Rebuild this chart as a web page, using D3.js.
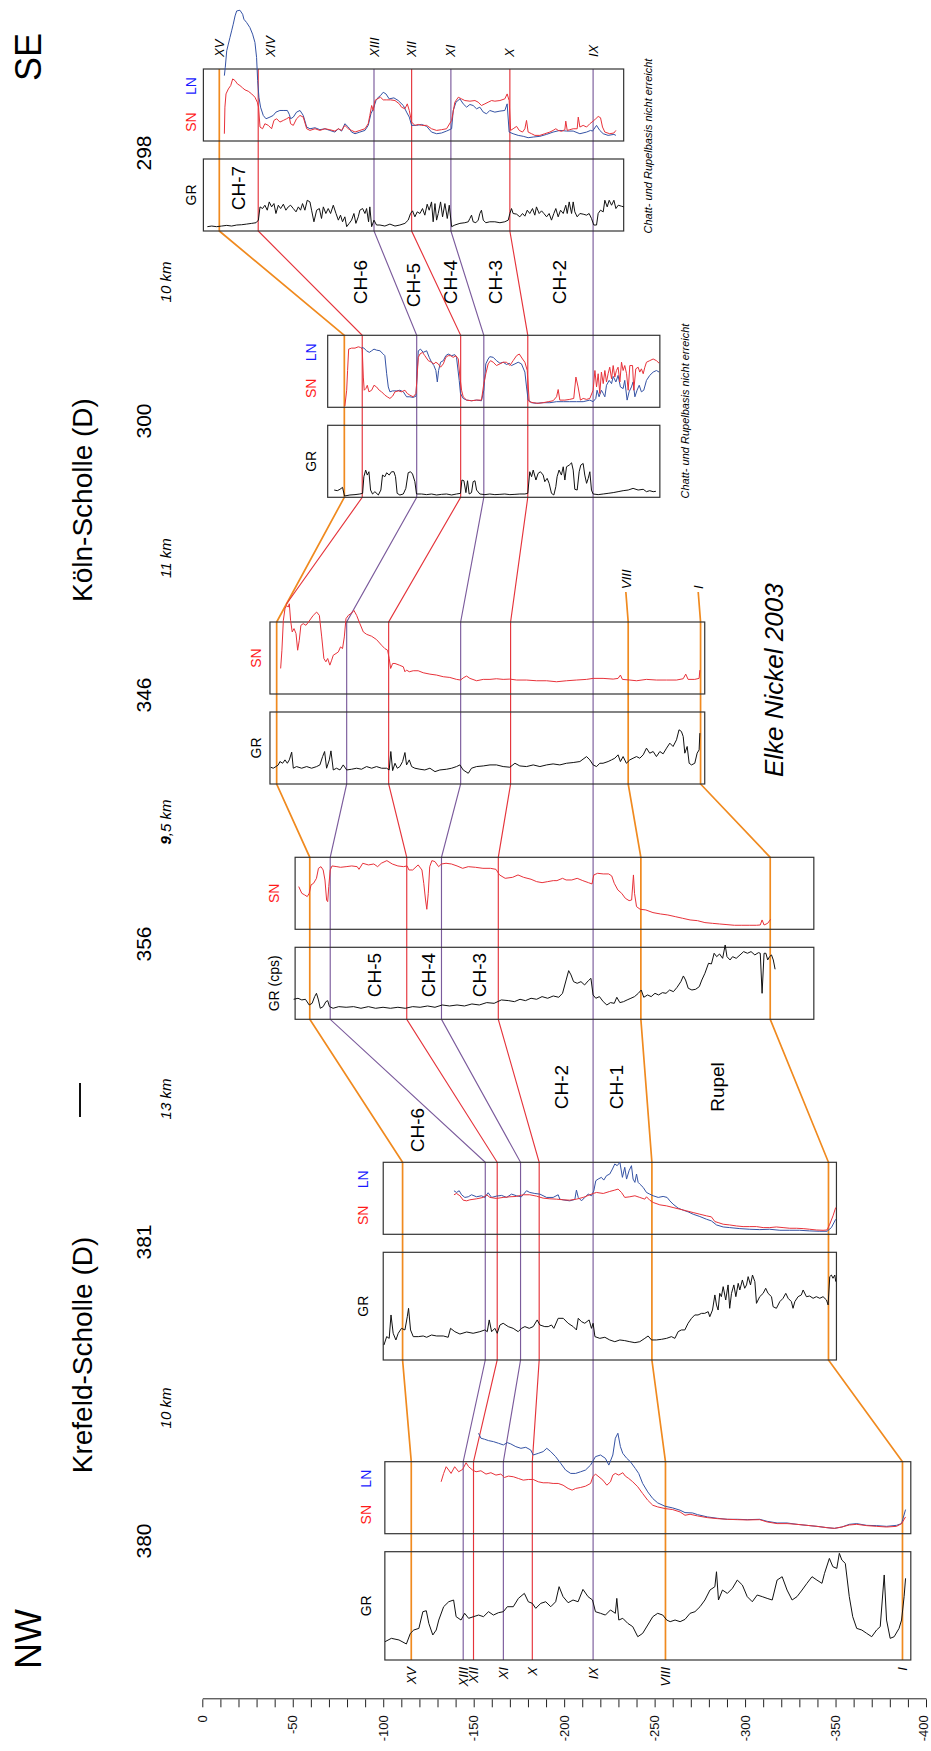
<!DOCTYPE html>
<html>
<head>
<meta charset="utf-8">
<script src="https://cdn.jsdelivr.net/npm/d3@7"></script>
<style>
html,body{margin:0;padding:0;background:#fff;}
svg{display:block;font-family:"Liberation Sans",Arial,Helvetica,sans-serif;}
</style>
</head>
<body>
<svg id="chart" width="931" height="1751"></svg>
<script>
// ---------- well-log data: [depth below datum (m), log reading on a 0-100 track scale] ----------
const gr380 = [[101,16.9],[104.5,20],[108.7,18.5],[112.8,14.8],[115,24.6],[116.9,27.7],[119.7,29.2],[121.9,44.6],[123.8,45.5],[125.2,33.8],[127.4,23.1],[129.3,27.7],[130.7,36.9],[133.4,49.2],[136.2,53.8],[138.9,55.4],[140.3,40],[143,36.9],[145,43.1],[147.2,38.5],[149.9,40],[152.7,41.5],[155.4,40],[158.2,44.6],[160.9,41.5],[163.7,43.7],[166.4,44.6],[168.6,49.2],[171.9,49.2],[174.7,56.9],[178,61.5],[180.2,53.8],[182.4,52.3],[184.3,47.7],[187.1,52.3],[189.8,53.8],[192.6,49.2],[195.3,53.8],[197.2,67.7],[199.4,58.5],[202.2,52.9],[204.9,55.4],[207.7,53.8],[210.4,65.2],[213.2,58.5],[215.7,55.4],[217.3,44.6],[220.1,43.1],[222.8,41.5],[225.6,46.2],[228.3,43.1],[229.1,56.9],[230.2,36.9],[232.4,38.5],[235.2,33.8],[237.9,30.8],[240.7,21.5],[243.4,24.6],[246.2,32.3],[249,40],[251.7,43.1],[254.5,41.5],[256.7,36.9],[258.6,35.4],[261.3,36.9],[264.1,35.4],[266.8,37.5],[269.6,43.1],[272.3,44.6],[275.1,49.2],[277.8,55.4],[280.6,64.6],[283.3,67.7],[284.2,81.5],[285.3,55.4],[287.5,64.6],[290.2,61.5],[293,66.2],[295.7,73.8],[298.5,69.2],[301.2,58.5],[304,53.8],[306.7,60],[309.5,58.5],[312.2,56.9],[315,55.4],[317.7,73.8],[320.5,76.9],[323.2,64.6],[326,55.4],[328.7,58.5],[331.5,64.6],[334.2,70.8],[337,76.9],[339.7,73.8],[342.5,70.8],[343.9,80],[346.6,93.8],[348.5,86.2],[350.7,84.6],[352.1,98.5],[353.5,92.3],[355.4,89.2],[357.6,58.5],[359.5,40],[361.7,29.2],[364.5,27.7],[367.2,24.6],[370,21.5],[372.7,27.7],[374.7,30.8],[376.9,78.5],[378.2,36.9],[380.2,20],[382.4,21.5],[385.1,29.2],[386.5,36.9],[387.9,58.5],[388.7,75.4]];
const sn380 = [[132,72.1],[133.4,83.7],[134.8,93],[136.2,88.4],[137.5,83.7],[139.5,93],[141.7,86],[143.9,89.3],[145.8,98.6],[147.2,93],[149.4,88.4],[151.3,86],[154,87.4],[156.8,82.8],[159.5,84.7],[162.3,81.4],[165,82.8],[167,78.1],[169.2,80],[171.9,79.1],[174.7,76.7],[177.4,74.4],[180.2,75.3],[182.9,75.3],[185.7,72.1],[188.4,70.7],[191.2,70.7],[193.9,69.8],[196.7,69.8],[199.4,67.4],[202.2,62.8],[204.4,60.5],[206.3,62.8],[209.1,64.2],[211.8,66],[214.6,69.8],[215.9,79.1],[217.3,82.8],[218.7,80],[221.4,74.4],[223.6,67.4],[225.6,72.1],[226.9,81.4],[228.3,83.7],[230.2,81.4],[232.4,84.7],[233.8,80],[235.7,76.7],[237.9,72.1],[240.7,65.1],[243.4,55.8],[246.2,46.5],[249,39.5],[251.7,37.2],[255.8,34.9],[260,33.5],[264.1,30.2],[266.8,25.6],[269.6,27],[273.7,24.7],[279.2,22.3],[284.7,20.9],[290.2,20],[295.7,19.5],[301.2,19.1],[308.1,19.5],[312.2,16.3],[317.7,14],[323.2,14],[328.7,13],[334.2,11.6],[339.7,10.2],[345.2,8.4],[349.4,7.4],[353.5,9.3],[357.6,12.1],[361.7,13],[367.2,11.2],[372.7,10.2],[378.2,9.3],[383.7,10.2],[386.5,14],[388.7,23.3]];
const ln380 = [[152.7,139.5],[154,132.6],[156,131.2],[158.2,129.3],[160.9,127.9],[163.7,125.6],[166.4,123.3],[168.6,126.5],[170.5,124.7],[173.3,120.9],[176.1,118.6],[178.8,120],[181.5,116.3],[182.9,109.3],[185.7,111.6],[188.4,114],[190.4,118.6],[192.6,114],[195.3,107],[198.1,97.7],[200.8,88.4],[203.6,83.7],[206.3,83.7],[209.1,86],[211.8,88.4],[214.6,95.3],[217.3,107],[220.1,109.3],[222.8,104.7],[224.7,95.3],[226.9,109.3],[228.3,132.6],[229.7,139.5],[231.1,120.9],[232.4,111.6],[234.6,104.7],[236.6,100],[239.3,90.7],[241.2,83.7],[243.4,69.8],[246.2,58.1],[249,48.8],[251.7,42.8],[255.8,38.1],[260,35.8],[264.1,32.6],[266.8,29.3],[271,28.8],[273.7,26.5],[279.2,23.3],[284.7,21.4],[290.2,20],[295.7,20],[301.2,19.5],[308.1,20],[312.2,17.2],[317.7,14.9],[323.2,14.9],[328.7,13],[334.2,11.6],[339.7,10.2],[345.2,8.4],[349.4,7.4],[353.5,9.3],[357.6,13],[361.7,14],[367.2,11.6],[372.7,11.2],[378.2,10.2],[383.7,11.6],[386.5,14],[388.7,33.5]];

const gr381 = [[100.4,13.9],[101.9,21.7],[103.3,20.1],[104.3,41.8],[105.5,24.8],[107,18.6],[108.3,24.8],[110.1,29.4],[112,27.9],[113.3,40.2],[114,48],[115.1,27.9],[116.6,21.7],[119.4,21.7],[122.1,22.3],[124,21.1],[126.7,23.2],[129.5,22.3],[133.2,22.3],[135.9,21.1],[137.2,29.4],[139.6,26.3],[142.4,24.1],[146.1,26],[149.7,24.8],[153.4,26.3],[156.2,27.9],[157.5,26.3],[158.6,37.2],[159.9,26.3],[161.7,29.4],[163,24.8],[164.5,32.5],[166.3,34.1],[169.1,31],[171.8,29.4],[174.6,26.3],[176.4,29.4],[178.3,31],[180.7,29.4],[182.9,31],[185.1,37.2],[186.6,32.5],[189.3,31],[191.2,31],[193,32.5],[194.3,29.4],[196.7,38.7],[199.5,38.7],[202.2,34.1],[205,31],[206.8,27.9],[207.8,38.7],[209.6,35.6],[211.4,34.1],[213.8,37.2],[215.1,29.4],[216,34.1],[217,21.7],[219.7,20.1],[222.5,21.1],[225.2,18.6],[228,17],[230.8,18.6],[233.5,18],[236.3,17],[239.1,16.1],[241.8,17],[244.6,20.1],[246.4,22.3],[248.3,18.6],[251,18.6],[253.8,19.2],[256.6,20.1],[259.3,21.7],[261.2,20.1],[263,26.3],[264.8,27.9],[266.7,27.9],[268.5,34.1],[270.4,38.7],[272.2,41.8],[274,41.8],[275.9,43.3],[277.7,43.3],[279.6,44.9],[280.5,40.2],[282,46.4],[283.3,60.4],[284.2,51.1],[285.1,46.4],[286,61.9],[286.9,58.8],[287.9,68.1],[289.3,55.7],[290.6,69.7],[291.5,48],[292.5,61.9],[293.8,69.7],[294.9,58.8],[296.2,71.2],[297.1,65],[298.5,74.3],[299.8,66.6],[300.8,69.7],[301.7,77.4],[303,69.7],[304.1,78.9],[305.4,72.8],[306.3,52.6],[308.1,58.8],[310,61.9],[311.4,66.6],[312.7,61.9],[314.6,58.8],[315.5,49.5],[317.3,48],[319.2,54.2],[321,57.3],[322.5,61.9],[323.8,57.3],[325.6,54.2],[326.5,48],[327.5,54.2],[329.3,58.8],[331.1,60.4],[332.1,65],[333.9,58.8],[335.7,59.4],[337.6,57.3],[339.4,58.8],[341.3,57.3],[343.1,58.8],[345,55.7],[345.9,51.1],[346.8,77.4],[347.7,78.9],[348.6,75.9],[349.6,78.9],[350.1,72.8]];
const sn381 = [[139.1,54.9],[140.5,56.7],[142.4,53.5],[144.2,47.4],[146.1,46.5],[147.9,47.9],[151.6,49.3],[155.3,51.2],[157.1,54.9],[159,51.2],[162.6,49.8],[166.3,51.2],[170,52.1],[173.7,52.6],[177.4,54.9],[181,54.9],[184.7,53],[188.4,50.2],[192.1,49.3],[195.8,48.8],[199.5,47.9],[203.1,47.4],[206.8,48.8],[210.5,51.2],[214.2,54.9],[216,56.7],[217.9,58.1],[221.6,56.7],[225.2,59.5],[228,61.4],[229.8,62.8],[231.7,58.1],[233.5,51.2],[236.3,52.1],[239.1,53.5],[241.8,51.2],[244.6,48.8],[245.5,52.1],[247.3,47.4],[249.2,44.2],[252.9,40.9],[256.6,39.5],[260.2,37.2],[263.9,34.9],[267.6,32.6],[271.3,30.2],[275,27.9],[278.7,25.6],[281.4,24.2],[283.3,17.7],[285.1,16.3],[287.9,14],[291.5,13],[295.2,11.6],[298.9,10.7],[302.6,10.7],[306.3,10.7],[310,9.3],[313.6,9.3],[317.3,10.2],[321,9.3],[324.7,8.4],[328.4,8.4],[332.1,7.9],[335.7,7],[339.4,6],[343.1,5.6],[345.3,6],[346.8,14],[348.6,25.6],[350.1,37.2]];
const ln381 = [[139.1,60.5],[140.5,58.1],[142,60.5],[143.3,54.9],[145.1,51.2],[147,52.1],[148.8,54.9],[151.6,52.1],[154.3,53.5],[156.2,51.2],[158,57.7],[159.9,51.2],[162.6,53],[165.4,54],[168.2,51.2],[170.9,55.8],[173.7,53.5],[176.4,52.1],[179.2,60.5],[181,58.1],[183.8,56.7],[186.6,55.8],[190.3,51.2],[193.9,51.2],[196.7,54.9],[197.6,48.8],[200.4,47.4],[203.1,46.5],[205.9,48.4],[206.8,61.4],[207.8,51.2],[209.6,46.5],[211.4,51.2],[213.3,55.8],[215.1,53.5],[216.4,60.5],[217.5,74.4],[218.8,76.7],[220.6,79.1],[221.9,75.3],[223.4,81.4],[225.2,83.7],[226.7,90.7],[228,97.7],[229.3,95.3],[230.8,100],[232.2,79.1],[233.5,93],[234.5,76.7],[235.9,88.4],[237.2,95.3],[238.1,76.7],[239.1,72.1],[240,83.7],[240.9,72.1],[241.8,69.8],[243.7,65.1],[245.5,58.1],[247.3,55.8],[249.2,53.5],[252,51.2],[254.7,52.6],[256.9,51.2],[258.4,46.5],[260.2,41.9],[263,36.3],[265.8,33.5],[268.5,31.2],[271.3,27.9],[275,24.7],[278.7,20.9],[281.4,18.6],[284.2,13],[287.9,10.2],[291.5,9.3],[297.1,7.9],[302.6,7],[308.1,6.5],[313.6,7],[319.2,5.6],[324.7,5.6],[330.2,5.6],[335.7,4.7],[341.3,4.2],[345.3,4.2],[347.7,9.3],[350.1,20.9]];

const gr356 = [[50.5,27.8],[52.9,29.2],[55,26.9],[57,27.8],[59.1,19.9],[60.7,22.2],[62.1,31.5],[63.1,36.1],[64.2,26.9],[65.2,15.3],[66.8,17.6],[68.3,24.5],[69.3,25.9],[70.3,17.6],[72.3,15.3],[75.4,17.6],[79.5,16.7],[83.6,17.6],[87.7,15.3],[91.8,17.6],[95.8,15.3],[99.9,16.7],[104,15.3],[108.1,16.7],[112.2,15.3],[116.3,17.6],[120.4,16.7],[124.5,18.5],[128.6,16.7],[132.6,19.9],[136.7,18.5],[140.8,19.9],[144.9,18.5],[149,21.3],[153.1,19.9],[157.2,23.2],[161.3,22.2],[165.3,26.9],[169.4,25.9],[172.5,24.5],[175.6,27.8],[178.6,25.9],[181.7,29.2],[184.8,27.8],[187.8,31.5],[190.9,29.2],[194,32.4],[197,30.6],[199.1,36.1],[201.1,54.6],[202.5,67.6],[203.8,61.6],[205.2,52.3],[207.2,50],[209.3,52.3],[211.3,47.7],[213.4,53.7],[214.8,56.9],[216,33.8],[217.5,29.2],[219.5,31.5],[221.6,24.5],[223.6,19.9],[225.6,23.2],[227.7,22.2],[229.1,30.6],[230.8,23.2],[232.8,24.5],[234.8,26.9],[236.9,29.2],[238.9,31.5],[241,36.1],[242.6,40.7],[244,30.6],[246.1,33.8],[248.1,31.5],[250.2,36.1],[252.2,33.8],[254.3,37],[256.3,36.1],[258.3,40.7],[260.4,38.4],[262.4,44.4],[264.5,52.3],[265.9,60.2],[267.1,54.6],[268.6,43.1],[270.6,40.7],[272.7,41.7],[274.7,45.4],[276.1,54.6],[277.8,63.9],[279.8,77.8],[281.4,76.9],[282.9,91.7],[284.3,87],[285.9,90.7],[287.6,84.7],[289,103.2],[290,87],[291.7,82.4],[293.1,87],[295.1,84.7],[297.2,89.4],[299.2,94],[301.3,91.7],[303.3,94],[305.4,89.4],[307.4,92.6],[308.4,91.7],[309.4,36.1],[310.5,91.7],[311.5,91.7],[312.5,82.4],[313.5,87],[314.6,89.4],[315.6,82.4],[316.6,69.5]];
const sn356 = [[53.3,59.3],[55,50],[56.6,47.7],[58,45.4],[59.1,50],[60.1,61.6],[61.5,63.9],[63.1,70.8],[64.2,84.7],[65.6,87],[66.8,82.4],[67.8,68.5],[68.7,40.7],[69.3,38.4],[69.9,59.3],[70.7,82.4],[71.7,88],[74.4,87],[76.4,86.1],[79.5,87],[82.6,88],[85.6,87],[86.6,83.3],[88.7,91.7],[91.8,89.4],[94.8,90.7],[96.9,87],[98.9,91.7],[102,95.4],[105,90.7],[108.1,88],[111.2,87],[113.2,88],[114.2,82.4],[116.3,82.4],[119.3,89.4],[121.4,82.4],[122.4,63.9],[123.4,40.7],[124.1,27.8],[124.9,50],[125.7,87],[126.9,95.4],[128.6,94],[130.6,87],[132.2,90.7],[134.7,91.7],[137.7,90.7],[140.8,88],[143.9,84.7],[147,87],[151,86.1],[155.1,84.7],[159.2,84.7],[162.3,83.3],[164.3,75.5],[167.4,70.8],[171.5,72.2],[174.5,75.5],[177.6,72.2],[181.7,69.5],[184.8,66.2],[187.8,64.8],[190.9,66.2],[194,67.6],[196,67.6],[199.1,70.8],[201.1,68.5],[204.2,68.5],[207.2,70.8],[210.3,67.6],[213.4,64.8],[215.4,63],[216.4,75.5],[218.5,77.8],[221.6,76.9],[224.6,76.9],[226.3,74.1],[227.7,63.9],[229.7,54.6],[231.8,50],[233.8,43.1],[235.9,39.8],[237.3,40.7],[238.3,75.5],[238.9,50],[240,31.5],[242,27.8],[245.1,26.9],[249.1,23.2],[253.2,21.3],[257.3,19.9],[261.4,17.6],[265.5,15.3],[269.6,13],[273.7,12],[277.8,9.3],[281.9,8.3],[285.9,7.4],[290,6.5],[294.1,5.6],[298.2,5.6],[302.3,5.6],[306.4,5.6],[308.4,6],[309.4,13],[310.5,6],[312.5,8.3],[314.1,13.9]];

const gr346 = [[37.8,23.3],[39.2,21.9],[40.7,24.2],[42,26.5],[42.9,31.2],[44.4,28.8],[45.7,33.5],[47,28.8],[48.1,33.5],[49.4,44.2],[50.3,21.9],[52.1,24.2],[54.9,21.9],[57.7,24.2],[60.4,21.9],[63.2,24.2],[65,26.5],[66.5,38.1],[67.6,45.1],[68.7,21.9],[70.2,33.5],[71.1,46],[72.4,19.5],[74.2,21.9],[76.1,19.5],[77.9,26.5],[79.8,19.5],[82.5,20.5],[85.3,21.9],[88,20.5],[90.8,24.2],[93.6,21.9],[96.3,24.2],[99.1,21.9],[101.9,21.9],[103.3,19.5],[104.2,45.1],[105.2,18.6],[106.5,28.8],[107.8,21.9],[109.2,24.2],[110.7,31.2],[112,43.7],[112.9,26.5],[114.4,33.5],[115.7,24.2],[117.5,21.9],[120.3,20.5],[123,19.5],[125.8,21.9],[128.6,17.2],[131.3,19.5],[135,20.5],[137.8,21.9],[140.5,24.2],[142.4,26.5],[144.2,19.5],[147,14.9],[148.8,21.9],[151.6,24.2],[155.3,25.1],[159,26.5],[162.6,26.5],[166.3,24.2],[170,23.3],[172.8,28.8],[175.5,25.1],[179.2,24.2],[182.9,26.5],[186.6,24.2],[190.3,26.5],[193.9,27.9],[197.6,26.5],[201.3,28.8],[205,29.8],[208.7,31.2],[212.4,38.1],[214.2,33.5],[216,26.5],[217.9,24.2],[219.7,28.8],[221.5,28.8],[224.3,31.2],[226.2,33.5],[228,35.8],[229.8,40.5],[231.1,31.2],[232.6,38.1],[234.4,28.8],[236.3,33.5],[238.1,35.8],[240,38.1],[241.8,35.8],[243.7,40.5],[245.5,49.8],[247.3,42.8],[249.2,45.1],[251,38.1],[252.9,45.1],[254.7,41.9],[256.6,49.8],[258.4,56.7],[260.2,52.1],[262.1,61.4],[263.5,75.3],[264.8,73],[265.8,66],[266.7,42.8],[268,52.1],[269.1,28.8],[270.4,26.5],[272.2,28.8],[273.5,42.8],[274.6,47.4],[275,70.7]];
const sn346 = [[43.3,35.5],[44,60.8],[44.8,102.3],[45.7,118.4],[46.6,123],[47.5,120.7],[48.1,125.3],[48.8,102.3],[49.7,86.2],[50.7,90.8],[51.8,83.9],[52.7,60.8],[53.6,74.6],[54.5,95.4],[55.8,97.7],[57.3,95.4],[59.1,101.4],[61.3,109.2],[63.2,113.8],[64.7,109.2],[66,79.3],[67.2,49.3],[68.3,44.7],[69.3,49.3],[70.5,40.1],[71.5,47],[72.4,53.9],[73.9,56.2],[75.2,58.5],[76.4,65.4],[77.5,63.1],[78.5,79.3],[79.4,104.6],[80.7,109.2],[82.5,112.4],[83.8,116.1],[85.3,109.2],[87.1,97.7],[89,86.2],[90.8,82.9],[93.6,80.2],[96.3,75.6],[99.1,67.7],[100.9,63.1],[102.4,60.8],[103.3,49.3],[104.1,35.5],[105.2,42.4],[106.5,42.4],[108.9,40.1],[111.1,37.8],[112,30.9],[112.9,33.2],[114.4,30.9],[116.6,32.3],[119.3,32.3],[122.1,29.5],[125.8,27.6],[129.5,26.3],[133.2,24],[136.8,23],[140.5,20.3],[142.7,19.4],[144.6,23],[146.1,24.9],[147.9,21.7],[151.6,18.4],[155.3,20.3],[159,20.3],[162.6,21.2],[166.3,20.3],[170,20.7],[173.7,19.4],[179.2,19.4],[184.7,18.4],[190.3,18.4],[195.8,17],[201.3,18.4],[206.8,19.4],[212.4,20.3],[216,21.7],[221.5,21.7],[227.1,20.7],[229.8,21.7],[231.1,26.3],[232.2,20.3],[236.3,19.4],[240,18.4],[245.5,20.3],[251,19.4],[256.6,19.4],[262.1,19.4],[265.8,21.2],[267.2,27.6],[268.5,20.3],[272.2,20.3],[274.6,21.7],[275,33.2]];

const gr300 = [[72.9,10.1],[74.6,9.2],[76.1,11.1],[77.5,13.8],[78.6,1.8],[81.6,3.2],[84.4,3.7],[87.1,4.6],[88.6,5.5],[89.3,28.6],[90.3,37.8],[91.2,30.9],[92.1,35.5],[93,10.1],[94.1,4.6],[95.4,7.8],[97.3,3.2],[98.7,10.1],[99.6,30.9],[100.9,28.6],[101.9,34.1],[103.3,30.9],[104.6,35.5],[105.9,35.5],[106.8,28.6],[107.7,5.5],[109.2,3.2],[111.1,4.6],[112.5,12.4],[113.8,34.1],[115.1,35.5],[116.2,32.3],[117.5,21.7],[118.4,4.6],[121.2,4.6],[124,3.7],[126.7,4.6],[129.5,3.2],[132.2,4.1],[135,4.6],[137.8,3.2],[140.5,4.6],[142.7,5.5],[143.5,24],[144.6,23],[145.7,6.5],[146.6,23],[147.5,4.6],[148.8,6.5],[149.7,21.7],[150.7,23],[151.6,10.1],[153.4,4.6],[156.2,3.7],[158.9,4.6],[161.7,3.7],[164.5,4.1],[167.2,4.6],[170,3.7],[172.8,4.1],[175.5,4.6],[178.3,4.6],[179.9,5.5],[181,35.5],[182,28.6],[182.9,37.8],[184.4,24],[185.6,33.2],[186.9,35.5],[188.4,30.9],[189.3,21.7],[190.6,26.3],[191.7,19.4],[193,5.5],[194.3,3.2],[195.4,14.7],[196.1,28.6],[197.2,37.8],[198.5,30.9],[199.5,42.4],[200.4,24],[201.3,42.4],[202.8,44.7],[204.1,47.9],[205,37.8],[205.9,11.1],[207.2,10.1],[208.3,35.5],[209.2,44.7],[210.5,47],[211.4,30.9],[212.4,19.4],[213.3,26.3],[214.2,35.5],[215.1,10.1],[216,4.6],[218.8,3.7],[221.6,4.6],[224.3,5.5],[227.1,6.5],[229.8,7.8],[232.6,9.2],[235.4,10.1],[238.1,12.4],[240.9,10.1],[243.7,11.1],[245.5,7.8],[247.3,9.2],[249.2,7.8],[250.7,8.3]];
const sn300 = [[78.8,1.8],[79.8,23.7],[80.3,51.1],[80.9,80.8],[82.5,82.2],[84.4,82.2],[86.2,84],[87.5,83.1],[88.4,80.8],[89,42],[89.5,23.7],[90.4,26],[91.2,30.6],[92.1,21.5],[93.6,23.7],[94.9,30.6],[96.3,28.3],[97.8,23.7],[99.1,21.5],[100.9,16.9],[102.2,14.6],[103.7,12.3],[105.2,15.5],[106.5,21.5],[108.3,22.8],[110.1,21.5],[112,23.7],[113.3,19.2],[114.7,16.9],[116.6,14.6],[118.1,19.2],[119.4,69.4],[120.3,74],[121.7,76.3],[123,71.7],[124.9,64.8],[126.7,62.6],[128,60.3],[129.1,62.6],[130.4,60.3],[131.7,55.7],[133.2,60.3],[134.6,69.4],[135.9,71.7],[137.2,71.7],[138.7,69.4],[140.2,71.7],[141.5,67.1],[142.4,42],[143.3,23.7],[144.2,14.6],[146.1,10],[148.8,9.1],[151.6,10],[154.3,10],[155.6,32.9],[156.7,46.6],[158,60.3],[159.3,64.8],[160.8,62.6],[162.6,58],[164.5,60.3],[166.3,62.6],[168.2,62.6],[170,58],[171.8,64.8],[173.7,71.7],[175.2,74],[177,67.1],[178.3,62.6],[179.6,51.1],[180.7,7.8],[182.9,6.4],[185.6,5.5],[188.4,6.4],[191.2,7.8],[193.9,9.1],[195.8,14.6],[196.7,24.7],[197.6,10],[200.4,10],[203.1,11],[205.3,12.3],[206.5,42],[207.7,28.3],[209,10],[210.5,12.3],[212.4,11],[214.2,12.3],[216,23.7],[217,51.1],[217.9,28.3],[218.8,46.6],[219.7,19.2],[220.6,48.9],[221.6,32.9],[222.5,51.1],[223.4,35.2],[224.3,46.6],[225.2,55.7],[226.2,39.7],[227.1,58],[228,42],[228.9,51.1],[229.8,55.7],[230.8,35.2],[231.7,62.6],[232.6,51.1],[233.5,58],[234.5,46.6],[235.4,23.7],[236.3,58],[237.8,58],[238.5,23.7],[239.6,53.4],[240.9,55.7],[241.8,48.9],[242.7,53.4],[243.7,46.6],[244.6,55.7],[245.5,62.6],[247.3,64.8],[249.2,67.1],[251,64.8],[252.5,61.2]];
const ln300 = [[88,83.1],[89.3,82.2],[90.8,78.5],[92.3,76.3],[93.6,78.5],[94.9,80.8],[96.3,79.4],[98.2,78.5],[100,74],[100.9,71.7],[101.9,46.6],[102.8,28.3],[103.7,21.5],[105.2,22.8],[107.4,22.8],[109.2,23.7],[111.1,21.5],[112.9,14.6],[114.7,14.6],[116.6,13.7],[118.1,15.5],[119.4,78.5],[120.6,80.8],[122.1,76.3],[124,78.5],[125.4,69.4],[126.7,62.6],[128,58],[129.1,51.1],[129.9,35.2],[130.6,51.1],[131.7,62.6],[133.2,64.8],[134.6,71.7],[135.9,74],[137.8,71.7],[139.6,73.1],[140.5,69.4],[142,37.4],[142.7,19.2],[144.2,12.3],[146.1,10],[148.8,9.1],[151.6,10],[154.3,9.1],[155.6,23.7],[156.7,60.3],[158,67.1],[158.9,70.3],[160.8,69.4],[162.6,64.8],[164.5,61.2],[166.3,62.6],[168.2,59.4],[169.6,61.2],[170.9,58],[172.8,60.3],[174.6,62.6],[176.4,60.3],[178.3,48.9],[179.2,28.3],[180.1,10],[182,6.4],[184.7,5.5],[188.4,6.4],[192.1,6.4],[195.8,7.8],[199.5,7.8],[203.1,7.8],[206.8,7.8],[210.5,7.8],[214.2,10],[216,7.8],[217.5,12.3],[218.2,23.7],[219.3,14.6],[220.6,23.7],[221.6,19.2],[222.5,14.6],[223.4,30.6],[224.9,37.4],[226.2,32.9],[227.1,42.9],[228.6,35.2],[229.8,44.3],[231.1,28.3],[232.6,26],[233.5,37.4],[234.8,10],[235.9,21.5],[237.2,28.3],[238.1,35.2],[239.1,14.6],[240.3,23.7],[241.5,30.6],[242.7,21.5],[244,23.7],[245.5,37.4],[247.3,44.3],[249.2,48.9],[251,51.1],[252.5,48.9]];

const gr298 = [[2.8,6],[5.2,6.9],[7.9,6],[10.7,6.9],[13.5,7.8],[16.2,6.9],[19,8.3],[21.7,8.7],[24.5,9.6],[27.3,10.6],[29.7,11.5],[31,15.1],[31.9,33.5],[33.3,31.2],[34.6,35.8],[35.9,28.9],[37,40.4],[38.3,33.5],[39.6,38.1],[40.7,24.3],[42,35.8],[43.3,31.2],[44.8,37.2],[46.2,28.9],[47.5,33.5],[48.8,35.8],[50.3,31.2],[51.8,26.6],[53.1,33.5],[54.3,28.9],[55.4,38.1],[56.7,28.9],[58,42.7],[59.5,40.4],[60.4,28.9],[61.7,12.8],[63.2,28.9],[64.7,31.2],[65.9,17.4],[66.9,33.5],[68.3,24.3],[69.6,31.2],[70.9,24.3],[72.4,35.8],[73.9,24.3],[75.2,15.1],[76.4,22],[77.5,12.8],[78.8,19.7],[79.8,6],[81.2,10.6],[82.5,15.1],[83.8,24.3],[84.9,10.6],[86.2,19.7],[87.1,28.9],[88.6,31.2],[89.9,24.3],[90.8,31.2],[91.9,12.8],[92.6,33.5],[93.6,6],[94.9,15.1],[96.3,8.3],[98.2,8.3],[100.9,6.9],[103.7,9.6],[106.5,6.9],[109.2,8.3],[112,10.6],[113.8,15.1],[115.1,24.3],[116.2,28],[117.5,19.7],[118.8,26.6],[120.3,24.3],[121.7,31.2],[123,22],[124.3,37.2],[125.4,28.9],[126.7,40.4],[127.6,12.8],[128.6,38.1],[129.5,15.1],[130.4,24.3],[131.7,40.4],[132.8,19.7],[134.1,38.1],[135.4,17.4],[136.5,35.8],[137.8,6],[139.6,8.3],[142.4,10.6],[145.1,11.5],[147,12.8],[147.9,17.4],[148.8,22],[149.7,12.8],[151.2,11.5],[152.5,15.1],[153.4,24.3],[154.3,28.9],[155.3,15.1],[156.7,11.5],[158.9,12.8],[161.7,12.8],[164.5,11.5],[167.2,12.8],[169.1,15.1],[170,24.3],[170.9,31.2],[171.8,24.3],[173.7,23.4],[175.5,19.7],[177,24.3],[178.3,20.6],[179.6,28.9],[181,24.3],[182.5,31.2],[183.8,22],[184.7,33.5],[186.2,24.3],[187.5,28],[188.8,24.3],[190.3,19.7],[191.7,24.3],[193,15.1],[194.3,24.3],[195.4,31.2],[196.7,19.7],[198,28.9],[199.5,24.3],[200.9,35.8],[201.7,24.3],[202.8,40.4],[204.1,24.3],[205,40.4],[205.9,26.6],[207.2,19.7],[208.7,24.3],[210.5,23.4],[212.4,22],[213.8,24.3],[215.1,17.4],[216.4,8.3],[217.9,8.3],[218.8,24.3],[220.1,28.9],[221.6,26.6],[222.5,42.7],[223.8,33.5],[224.9,42.7],[226.2,35.8],[227.5,42.7],[228.6,31.2],[229.9,35.8],[231.7,34.4],[233,33.5]];
const sn298 = [[12.2,10.1],[12.5,47],[13.1,65.4],[14.4,72.3],[15.7,77],[16.8,86.2],[18.1,83.9],[19.4,79.3],[20.8,77],[22.3,73.7],[23.6,71],[25.4,69.1],[27.3,65.4],[29.1,60.8],[30.4,53.9],[31.1,47],[31.9,19.4],[33.3,17],[34.6,24],[36.5,21.7],[38.3,17],[39.6,28.6],[41.1,30.9],[42.9,26.3],[44.8,28.6],[46.6,30.9],[48.1,33.2],[48.8,24],[50.3,21.7],[52.1,30.9],[54,35.5],[55.8,33.2],[57.7,17],[59.5,14.7],[62.3,17],[65,14.7],[67.8,17],[70.5,15.7],[73.3,13.8],[75.2,17],[77,14.7],[78.8,21.7],[80.7,17],[82.5,14.7],[84.4,12.4],[87.1,14.7],[89.9,17],[91.7,24],[92.6,35.5],[93.6,49.3],[94.5,42.4],[95.4,56.2],[96.7,58.5],[98.5,60.8],[100,57.1],[101.9,57.1],[104.1,57.1],[106.5,56.2],[108.9,51.6],[110.1,47],[112,44.7],[113.3,51.6],[114.4,42.4],[115.7,26.3],[117.5,21.7],[119.4,23],[121.2,21.7],[124,21.7],[126.7,17],[129.5,14.7],[132.2,15.7],[135,17],[137.8,28.6],[139.6,53.9],[141.5,60.8],[143.3,58.5],[145.1,56.2],[147.9,55.3],[150.7,56.2],[152.5,53.9],[154.3,49.3],[156.2,51.6],[158,53.9],[159.9,56.2],[161.7,55.3],[164.5,56.2],[167.2,58.5],[168.5,65.4],[169.6,56.2],[170.4,14.7],[171.8,17],[173.7,20.3],[175.2,14.7],[177,12.4],[178.3,17],[179.2,28.6],[180.1,12.4],[182,10.1],[183.8,7.8],[186.6,7.8],[189.3,10.1],[192.1,12.4],[193.9,14.7],[195.4,17],[196.7,14.7],[198.5,13.4],[200.4,15.7],[200.9,27.6],[201.7,14.7],[203.1,15.7],[205,17],[207.2,17],[207.8,33.2],[208.7,19.4],[210.5,21.7],[212.4,19.4],[214.2,24],[216,27.6],[217.5,30.9],[218.8,34.1],[220.1,32.3],[221.2,19.4],[222.5,12.4],[225.2,10.1],[227.5,11.1],[228.6,14.7]];
const ln298 = [[12.2,90.8],[12.7,102.3],[13.5,125.3],[14.4,134.6],[15.3,143.8],[16.2,153],[17.1,162.2],[18.1,173.7],[19,180.6],[20.8,181.6],[22.3,176],[23,169.1],[24.5,164.5],[26.3,157.6],[27.8,148.4],[29.1,136.9],[30,116.1],[30.6,83.9],[31.3,60.8],[32.2,47],[33.7,35.5],[35.2,30.9],[37.4,33.2],[39.2,35.5],[40.7,40.1],[42.9,42.4],[45.1,42.4],[47,42.4],[48.1,36.9],[48.8,30.9],[50.3,33.2],[52.1,40.1],[54,42.4],[55.8,35.5],[57.7,19.4],[59.5,17],[62.3,18.4],[65,15.7],[67.8,17],[70.5,14.7],[73.3,12.4],[75.2,17],[77,13.8],[78.8,24],[80.7,19.4],[82.5,12.4],[84.4,10.1],[87.1,12.4],[89.9,14.7],[91.7,21.7],[93.2,37.8],[94.5,44.7],[96,56.2],[97.3,60.8],[98.5,63.1],[100,67.7],[101.5,65.4],[103.3,58.5],[105.9,59.9],[108.3,56.2],[111.1,49.3],[112.9,40.1],[114.4,33.2],[115.7,21.7],[118.4,21.7],[121.2,23],[124,20.3],[126.7,12.4],[129.5,10.1],[132.2,11.1],[135,13.8],[137.8,17],[138.7,42.4],[140.2,53.9],[142.4,58.5],[144.2,51.6],[146.1,47],[147.9,50.7],[149.7,49.3],[151.6,44.7],[153.4,47],[155.3,40.1],[157.1,37.8],[158.9,42.4],[161.7,40.1],[164.5,41.5],[167.2,42.4],[168.5,51.6],[169.6,12.4],[171.8,10.1],[174.6,7.8],[177.4,6.5],[180.1,4.6],[182.9,5.5],[186.6,6.5],[190.3,9.2],[193.9,12.4],[197.6,14.7],[201.3,13.8],[205,13.8],[208.7,10.1],[212.4,12.4],[214.6,14.7],[215.7,13.8],[217.9,21.7],[219.7,14.7],[221.6,10.1],[224.3,7.8],[227.5,9.2],[228.6,7.8]];

// ---------- wells, horizons, annotations ----------
const wellNames = ["380", "381", "356", "346", "300", "298"];
const logTop    = [100.9, 100, 51.3, 37.4, 69.3, 0.6];
const logBase   = [391.6, 350.5, 338, 277.7, 252.9, 232.9];
const grLabels  = ["GR", "GR", "GR (cps)", "GR", "GR", "GR"];
const grLogs = [gr380, gr381, gr356, gr346, gr300, gr298];
const snLogs = [sn380, sn381, sn356, sn346, sn300, sn298];
const lnLogs = [ln380, ln381, null, null, ln300, ln298];
const distances = ["10 km", "13 km", "9,5 km", "11 km", "10 km"];

const horizonIds = ["XV", "XIV", "XIII", "XII", "XI", "X", "IX", "VIII", "I"];
const horizonDepths = {
  XV:   [115.5, 110.7, 59.4, 41.1, 78.5, 9.4],
  XIV:  [null, null, null, null, 88.4, 30.9],
  XIII: [144.2, 156.4, 70.7, 79.8, 118.5, 94.9],
  XII:  [149.9, 163, 113, 103, 142.8, 115.7],
  XI:   [166.4, 175.9, 132.2, 142.8, 155.6, 137.4],
  X:    [182.4, 186.2, 163.6, 170.4, 179.9, 170],
  IX:   [216, 216, 216, 216, 216, 216],
  VIII: [256, 248.5, 242.4, 235.4, null, null],
  I:    [387, 346.1, 313.9, 275.4, null, null]
};
// XIV wedges out onto XV between wells 346 and 300
const xivPinchFraction = 0.86;

// unit labels: [text, position along section, depth]
const unitLabels = [
  ["CH-7", 1563, 20], ["CH-6", 1469, 87.1], ["CH-5", 1466, 116.4], ["CH-4", 1469, 136.9],
  ["CH-3", 1469, 161.7], ["CH-2", 1469, 197.6],
  ["CH-5", 776, 94.9], ["CH-4", 776, 124.7], ["CH-3", 776, 153.4],
  ["CH-6", 621, 118.9], ["CH-2", 664, 198.2], ["CH-1", 664, 228.8], ["Rupel", 664, 284.9]
];

// ---------- layout (section drawn landscape, then turned a quarter turn) ----------
const W = 931, H = 1751;
const colLeft  = [91, 391, 731.7, 967, 1253.7, 1520];
const grWidth  = [108.3, 107.7, 72, 72, 72, 72];
const snWidth = 72, colGap = 18;
const nameX    = [210, 509, 807, 1056, 1330, 1598];
const distX    = [343, 652, 929, 1193, 1469];
const labelGap = [19, 20, 21, 14, 17, 12];

const ORANGE = "#f08a1f", PURPLE = "#7b5b9c", RED = "#e5343b";
const horizonColor = {XV: ORANGE, XIV: RED, XIII: PURPLE, XII: RED, XI: PURPLE, X: RED, IX: PURPLE, VIII: ORANGE, I: ORANGE};

const svg = d3.select("#chart");
const g = svg.append("g").attr("transform", `translate(0,${H}) rotate(-90)`);

const y = d3.scaleLinear().domain([0, -400]).range([202.3, 926]);
const yd = d => y(-d);

const snLeft = i => colLeft[i] + grWidth[i] + colGap;
const wellRight = i => snLeft(i) + snWidth;

// ---------- depth axis ----------
const axis = d3.axisLeft(y)
  .tickValues(d3.range(0, -401, -10))
  .tickSize(8).tickSizeOuter(0).tickPadding(8)
  .tickFormat(d => (d % 50 === 0 ? String(d) : ""));
const ax = g.append("g").attr("transform", "translate(51.7,0)").call(axis);
ax.attr("font-size", 13).attr("font-family", null);
ax.selectAll("path,line").attr("stroke", "#222").attr("stroke-width", 1);
ax.selectAll("text").attr("fill", "#111");
// keep the deepest label inside the page edge
ax.selectAll(".tick").filter(d => d === -400).select("text").attr("dy", "0.1em");

// ---------- horizon correlation lines ----------
const line = d3.line();
horizonIds.forEach(id => {
  const ds = horizonDepths[id];
  const pts = [];
  if (id === "XIV") {
    const xv = horizonDepths.XV;
    const x0 = wellRight(3), x1 = colLeft[4];
    const px = x1 - xivPinchFraction * (x1 - x0);
    const pd = xv[4] + xivPinchFraction * (xv[3] - xv[4]);
    pts.push([px, yd(pd)]);
  }
  ds.forEach((d, i) => {
    if (d == null) return;
    pts.push([colLeft[i], yd(d)], [wellRight(i), yd(d)]);
  });
  if (id === "VIII" || id === "I") {
    const last = ds[3];
    pts.push([wellRight(3) + 30, yd(last - 1.3)]);
    g.append("text").attr("x", wellRight(3) + 33).attr("y", yd(last - 1.2))
      .attr("dy", "0.35em").attr("font-size", 13).attr("font-style", "italic").text(id);
  }
  g.append("path").attr("d", line(pts)).attr("fill", "none")
    .attr("stroke", horizonColor[id])
    .attr("stroke-width", horizonColor[id] === ORANGE ? 1.7 : 1.15);
});

// horizon names at both ends of the section
horizonIds.forEach(id => {
  const d0 = horizonDepths[id][0];
  if (d0 != null) {
    g.append("text").attr("x", colLeft[0] - 7).attr("y", yd(d0)).attr("dy", "0.35em")
      .attr("text-anchor", "end").attr("font-size", 13).attr("font-style", "italic").text(id);
  }
  const d5 = horizonDepths[id][5];
  if (d5 != null) {
    const ld = id === "XIV" ? d5 + 6.5 : d5;
    g.append("text").attr("x", wellRight(5) + 12).attr("y", yd(ld)).attr("dy", "0.35em")
      .attr("font-size", 13).attr("font-style", "italic").text(id);
  }
});

// ---------- well tracks and logs ----------
wellNames.forEach((name, i) => {
  const top = yd(logTop[i]), base = yd(logBase[i]);
  const tracks = [
    {x0: colLeft[i], w: grWidth[i]},
    {x0: snLeft(i), w: snWidth}
  ];
  tracks.forEach(t => {
    g.append("rect").attr("x", t.x0).attr("y", top).attr("width", t.w).attr("height", base - top)
      .attr("fill", "none").attr("stroke", "#333").attr("stroke-width", 1.2);
  });

  const xGr = d3.scaleLinear().domain([0, 100]).range([colLeft[i], colLeft[i] + grWidth[i]]);
  const xSn = d3.scaleLinear().domain([0, 100]).range([snLeft(i), snLeft(i) + snWidth]);
  const curve = (data, xs) => d3.line().x(p => xs(p[1])).y(p => yd(p[0]))(data);

  g.append("path").attr("d", curve(grLogs[i], xGr)).attr("fill", "none")
    .attr("stroke", "#111").attr("stroke-width", 1).attr("stroke-linejoin", "round");
  if (lnLogs[i]) {
    g.append("path").attr("d", curve(lnLogs[i], xSn)).attr("fill", "none")
      .attr("stroke", "#3553a5").attr("stroke-width", 1).attr("stroke-linejoin", "round");
  }
  g.append("path").attr("d", curve(snLogs[i], xSn)).attr("fill", "none")
    .attr("stroke", "#e8323a").attr("stroke-width", 1).attr("stroke-linejoin", "round");

  // track headers
  const hy = top - labelGap[i];
  g.append("text").attr("x", colLeft[i] + grWidth[i] / 2).attr("y", hy).attr("dy", "0.35em")
    .attr("text-anchor", "middle").attr("font-size", 14).text(grLabels[i]);
  if (lnLogs[i]) {
    g.append("text").attr("x", snLeft(i) + 19).attr("y", hy).attr("dy", "0.35em")
      .attr("text-anchor", "middle").attr("font-size", 14).attr("fill", "#ff1a1a").text("SN");
    g.append("text").attr("x", snLeft(i) + 55).attr("y", hy).attr("dy", "0.35em")
      .attr("text-anchor", "middle").attr("font-size", 14).attr("fill", "#1a1aff").text("LN");
  } else {
    g.append("text").attr("x", snLeft(i) + snWidth / 2).attr("y", hy).attr("dy", "0.35em")
      .attr("text-anchor", "middle").attr("font-size", 14).attr("fill", "#ff1a1a").text("SN");
  }

  // well number
  g.append("text").attr("x", nameX[i]).attr("y", 143.3).attr("dy", "0.35em")
    .attr("text-anchor", "middle").attr("font-size", 21).text(name);
});

// distances between wells
distances.forEach((t, i) => {
  const tx = g.append("text").attr("x", distX[i]).attr("y", 166).attr("dy", "0.35em")
    .attr("text-anchor", "middle").attr("font-size", 15).attr("font-style", "italic");
  if (t.startsWith("9,")) {
    tx.append("tspan").attr("font-weight", "bold").text("9");
    tx.append("tspan").text(t.slice(1));
  } else {
    tx.text(t);
  }
});

// lithostratigraphic units
unitLabels.forEach(([t, x, d]) => {
  g.append("text").attr("x", x).attr("y", yd(d)).attr("dy", "0.35em")
    .attr("text-anchor", "middle").attr("font-size", 19).text(t);
});

// notes for wells that stop short of the Chattian / Rupelian base
[[1605, 648], [1340, 685]].forEach(([x, yy]) => {
  g.append("text").attr("x", x).attr("y", yy).attr("dy", "0.35em")
    .attr("text-anchor", "middle").attr("font-size", 11).attr("font-style", "italic")
    .text("Chatt- und Rupelbasis nicht erreicht");
});

// block names, orientation and credit
g.append("text").attr("x", 1251).attr("y", 82).attr("dy", "0.35em").attr("text-anchor", "middle")
  .attr("font-size", 28).text("Köln-Scholle (D)");
g.append("text").attr("x", 396).attr("y", 82).attr("dy", "0.35em").attr("text-anchor", "middle")
  .attr("font-size", 28).text("Krefeld-Scholle (D)");
g.append("text").attr("x", 1694).attr("y", 28).attr("dy", "0.35em").attr("text-anchor", "middle")
  .attr("font-size", 36).text("SE");
g.append("text").attr("x", 112).attr("y", 28).attr("dy", "0.35em").attr("text-anchor", "middle")
  .attr("font-size", 36).text("NW");
g.append("line").attr("x1", 634).attr("x2", 668).attr("y1", 80).attr("y2", 80)
  .attr("stroke", "#111").attr("stroke-width", 2);
g.append("text").attr("x", 974).attr("y", 783).attr("font-size", 26).attr("font-style", "italic")
  .text("Elke Nickel 2003");
</script>
</body>
</html>
